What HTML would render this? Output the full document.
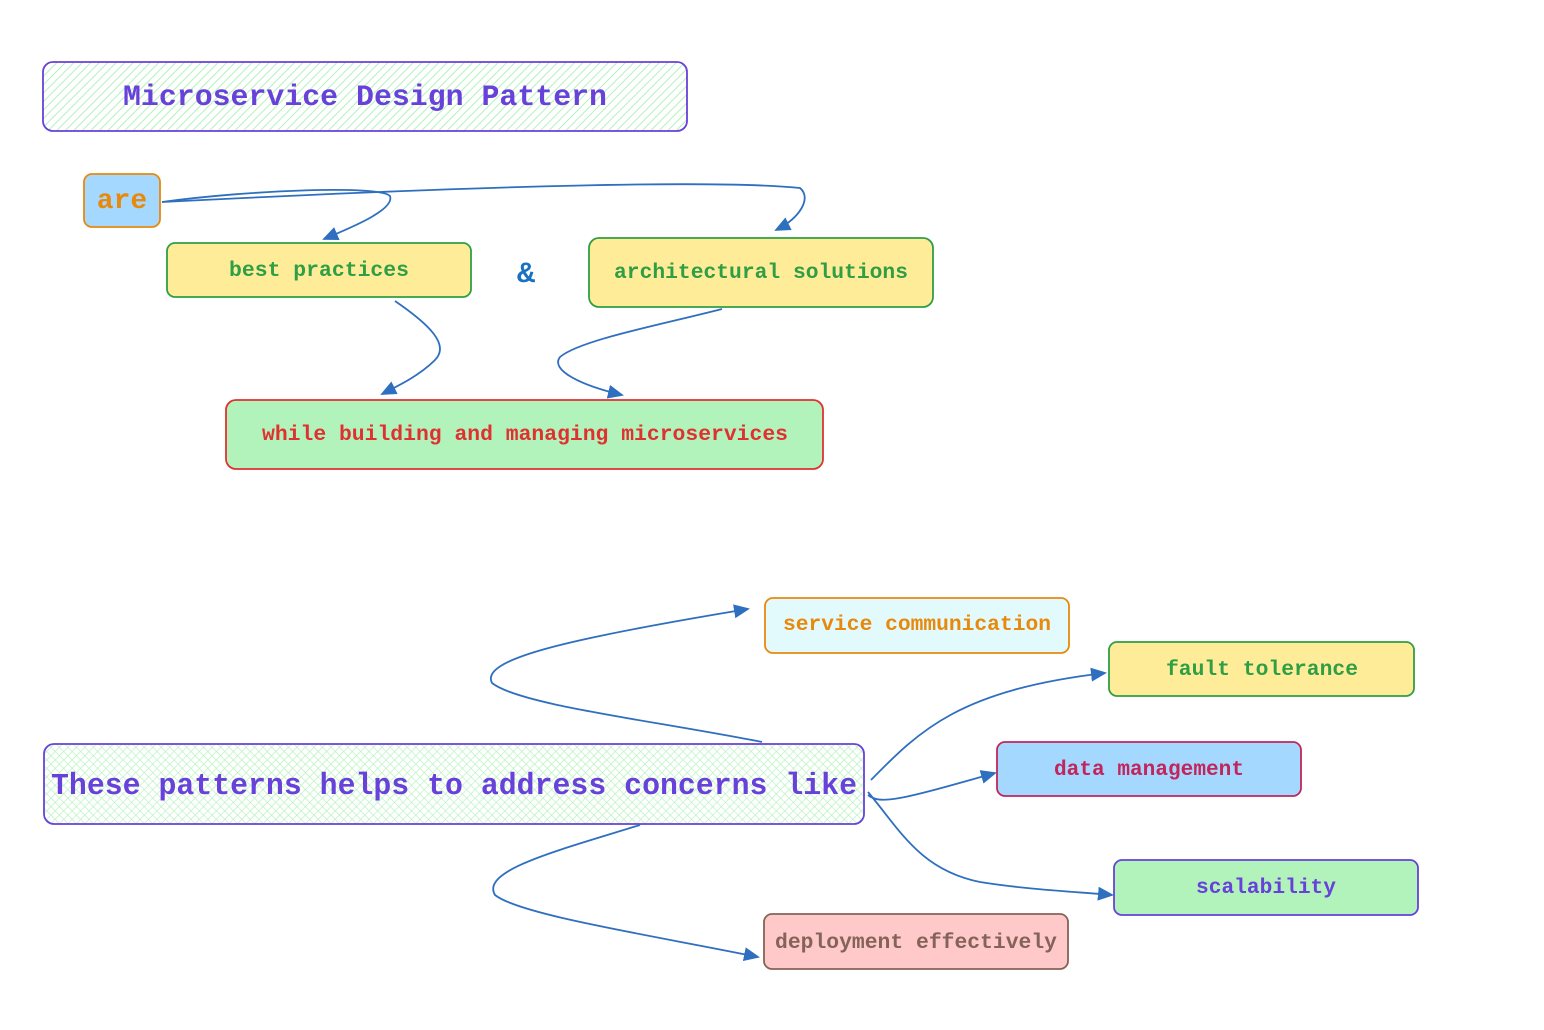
<!DOCTYPE html>
<html><head><meta charset="utf-8"><style>
html,body{margin:0;padding:0;background:#fff}
svg{display:block}
text{font-family:"Liberation Mono","DejaVu Sans Mono",monospace}
</style></head><body>
<svg width="1544" height="1030" viewBox="0 0 1544 1030" xmlns="http://www.w3.org/2000/svg">
<defs>
<pattern id="h" width="6" height="6" patternUnits="userSpaceOnUse" patternTransform="rotate(45)">
<rect width="6" height="6" fill="#fff"/><line x1="0" y1="0" x2="0" y2="6" stroke="#b2f2bb" stroke-width="2"/></pattern>
<pattern id="x" width="6" height="6" patternUnits="userSpaceOnUse" patternTransform="rotate(45)">
<rect width="6" height="6" fill="#fff"/><line x1="0" y1="0" x2="0" y2="6" stroke="#b2f2bb" stroke-width="1.3"/><line x1="0" y1="0" x2="6" y2="0" stroke="#b2f2bb" stroke-width="1.3"/></pattern>
<marker id="a" markerWidth="16" markerHeight="14" refX="14" refY="7" orient="auto" markerUnits="userSpaceOnUse"><path d="M0,0 L16,7 L0,14 z" fill="#2f6fbf"/></marker>
</defs>
<g fill="none" stroke-width="1.8">
<rect x="43" y="62" width="644" height="69" rx="10" fill="url(#h)" stroke="#6741d9"/>
<rect x="84" y="174" width="76" height="53" rx="8" fill="#a5d8ff" stroke="#e8890c"/>
<rect x="167" y="243" width="304" height="54" rx="8" fill="#ffec99" stroke="#2f9e44"/>
<rect x="589" y="238" width="344" height="69" rx="10" fill="#ffec99" stroke="#2f9e44"/>
<rect x="226" y="400" width="597" height="69" rx="10" fill="#b2f2bb" stroke="#e03131"/>
<rect x="44" y="744" width="820" height="80" rx="10" fill="url(#x)" stroke="#6741d9"/>
<rect x="765" y="598" width="304" height="55" rx="8" fill="#e3fafc" stroke="#e8890c"/>
<rect x="1109" y="642" width="305" height="54" rx="8" fill="#ffec99" stroke="#2f9e44"/>
<rect x="997" y="742" width="304" height="54" rx="8" fill="#a5d8ff" stroke="#c2255c"/>
<rect x="1114" y="860" width="304" height="55" rx="8" fill="#b2f2bb" stroke="#6741d9"/>
<rect x="764" y="914" width="304" height="55" rx="8" fill="#ffc9c9" stroke="#846358"/>
</g>
<g fill="none" stroke="#2f6fbf" stroke-width="1.8">
<path d="M162,202 C250,190 380,185 390,196 C395,210 350,228 324,239" marker-end="url(#a)"/>
<path d="M162,202 C400,190 700,178 800,188 C812,198 800,218 776,230" marker-end="url(#a)"/>
<path d="M395,301 C430,325 450,345 435,360 C420,375 400,385 382,394" marker-end="url(#a)"/>
<path d="M722,309 C660,325 580,340 560,357 C550,370 580,385 622,395" marker-end="url(#a)"/>
<path d="M762,742 C650,720 520,705 492,683 C480,660 560,640 748,609" marker-end="url(#a)"/>
<path d="M871,780 C920,730 960,690 1105,673" marker-end="url(#a)"/>
<path d="M868,795 C880,805 900,800 995,773" marker-end="url(#a)"/>
<path d="M868,792 C900,830 920,870 980,882 C1030,890 1080,892 1112,895" marker-end="url(#a)"/>
<path d="M640,825 C560,850 480,870 495,895 C520,915 650,935 758,957" marker-end="url(#a)"/>
</g>
<g text-anchor="middle" font-weight="bold">
<text x="365" y="105" font-size="30" fill="#6741d9" textLength="484" lengthAdjust="spacingAndGlyphs">Microservice Design Pattern</text>
<text x="122" y="208" font-size="28" fill="#e8890c">are</text>
<text x="319" y="276" font-size="21" fill="#2f9e44" textLength="180" lengthAdjust="spacingAndGlyphs">best practices</text>
<text x="526" y="282" font-size="30" fill="#1971c2">&amp;</text>
<text x="761" y="278" font-size="21" fill="#2f9e44" textLength="294" lengthAdjust="spacingAndGlyphs">architectural solutions</text>
<text x="525" y="440" font-size="21" fill="#e03131" textLength="526" lengthAdjust="spacingAndGlyphs">while building and managing microservices</text>
<text x="454" y="794" font-size="31" fill="#6741d9" textLength="806" lengthAdjust="spacingAndGlyphs">These patterns helps to address concerns like</text>
<text x="917" y="630" font-size="21" fill="#e8890c" textLength="268" lengthAdjust="spacingAndGlyphs">service communication</text>
<text x="1262" y="675" font-size="21" fill="#2f9e44" textLength="192" lengthAdjust="spacingAndGlyphs">fault tolerance</text>
<text x="1149" y="775" font-size="21" fill="#c2255c" textLength="190" lengthAdjust="spacingAndGlyphs">data management</text>
<text x="1266" y="893" font-size="21" fill="#6741d9" textLength="140" lengthAdjust="spacingAndGlyphs">scalability</text>
<text x="916" y="948" font-size="21" fill="#846358" textLength="282" lengthAdjust="spacingAndGlyphs">deployment effectively</text>
</g>
</svg>
</body></html>
